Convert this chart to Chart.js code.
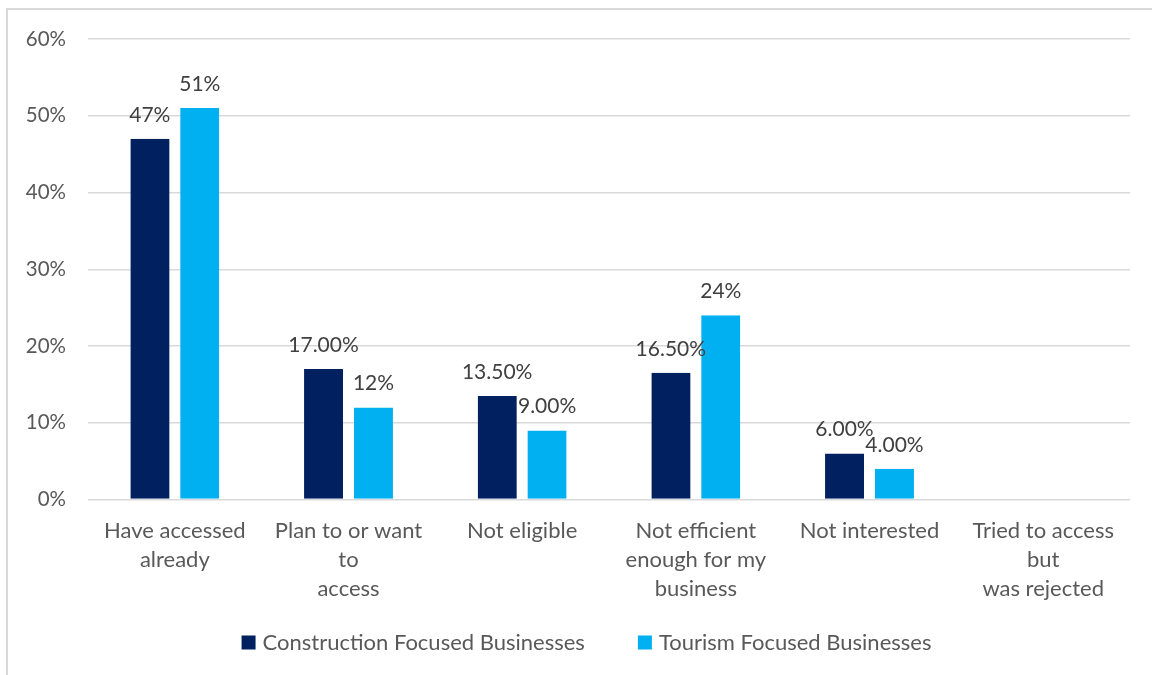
<!DOCTYPE html>
<html>
<head>
<meta charset="utf-8">
<script src="https://cdn.jsdelivr.net/npm/chart.js@4/dist/chart.umd.min.js"></script>
<style>
  html, body { margin: 0; padding: 0; background: #ffffff; }
  #wrap { position: absolute; left: 0; top: 0; width: 1152px; height: 675px; overflow: hidden; }
  #frame { position: absolute; left: 6px; top: 8px; width: 1200px; height: 700px;
           border-left: 2px solid #d9d9d9; border-top: 2px solid #d9d9d9; }
  canvas { position: absolute; left: 0; top: 0; }
</style>
</head>
<body>
<div id="wrap">
  <div id="frame"></div>
  <canvas id="chart" width="1152" height="675"></canvas>
</div>
<script>
// Survey answers, one entry per category
const categories = [
  ["Have accessed", "already"],
  ["Plan to or want", "to", "access"],
  "Not eligible",
  ["Not efficient", "enough for my", "business"],
  "Not interested",
  ["Tried to access", "but", "was rejected"]
];

const seriesNames = ["Construction Focused Businesses", "Tourism Focused Businesses"];

// Share of respondents (%)
const construction = [47, 17, 13.5, 16.5, 6, 0];
const tourism = [51, 12, 9, 24, 4, 0];

// Value labels as printed above each bar
const constructionLabels = ["47%", "17.00%", "13.50%", "16.50%", "6.00%", ""];
const tourismLabels = ["51%", "12%", "9.00%", "24%", "4.00%", ""];

const yTickValues = [0, 10, 20, 30, 40, 50, 60];

const FONT = "Lato, 'Noto Sans', sans-serif";
const TEXT = "#595959";
const GAP = 5.5; // half the white gap between paired bars

// Writes the value text above each bar
const valueLabels = {
  id: "valueLabels",
  afterDatasetsDraw(chart) {
    const ctx = chart.ctx;
    ctx.save();
    ctx.font = "21px " + FONT;
    ctx.fillStyle = "#404040";
    ctx.textAlign = "center";
    ctx.textBaseline = "middle";
    chart.data.datasets.forEach((ds, di) => {
      const meta = chart.getDatasetMeta(di);
      meta.data.forEach((bar, i) => {
        const txt = ds.valueText[i];
        if (!txt) return;
        const cx = bar.x + (di === 0 ? -GAP / 2 : GAP / 2);
        ctx.fillText(txt, cx, bar.y - 24);
      });
    });
    ctx.restore();
  }
};

// Series key centred in a single row under the category labels
const bottomLegend = {
  id: "bottomLegend",
  afterDraw(chart) {
    const ctx = chart.ctx;
    const box = 14, textGap = 7, itemGap = 53;
    ctx.save();
    ctx.font = "22px " + FONT;
    const items = chart.data.datasets.map(ds => ({
      text: ds.label,
      color: ds.backgroundColor,
      w: ctx.measureText(ds.label).width
    }));
    const total = items.reduce((s, it) => s + box + textGap + it.w, 0) + itemGap * (items.length - 1);
    const area = chart.chartArea;
    const centre = (area.left + area.right) / 2 - 22.5;
    const y = chart.scales.x.bottom + 33;
    let x = centre - total / 2;
    ctx.textAlign = "left";
    ctx.textBaseline = "middle";
    items.forEach(it => {
      ctx.fillStyle = it.color;
      ctx.fillRect(x, y - box / 2, box, box);
      x += box + textGap;
      ctx.fillStyle = TEXT;
      ctx.fillText(it.text, x, y);
      x += it.w + itemGap;
    });
    ctx.restore();
  }
};

new Chart(document.getElementById("chart"), {
  type: "bar",
  data: {
    labels: categories,
    datasets: [
      {
        label: seriesNames[0],
        data: construction,
        valueText: constructionLabels,
        backgroundColor: "#002060",
        borderColor: "rgba(0,0,0,0)",
        borderWidth: { top: 0, right: GAP, bottom: 0, left: 0 },
        borderSkipped: "start"
      },
      {
        label: seriesNames[1],
        data: tourism,
        valueText: tourismLabels,
        backgroundColor: "#00B0F0",
        borderColor: "rgba(0,0,0,0)",
        borderWidth: { top: 0, right: 0, bottom: 0, left: GAP },
        borderSkipped: "start"
      }
    ]
  },
  options: {
    responsive: false,
    animation: false,
    layout: { padding: { top: 39, right: 22, bottom: 65.5, left: 0 } },
    datasets: {
      bar: { categoryPercentage: 0.512, barPercentage: 1.0 }
    },
    scales: {
      x: {
        grid: { display: false },
        border: { display: false },
        ticks: {
          color: TEXT,
          font: { family: FONT, size: 22, lineHeight: 1.32 },
          padding: 9,
          maxRotation: 0,
          autoSkip: false
        },
        afterFit(scale) { scale.height = 110; }
      },
      y: {
        min: 0,
        max: 60,
        afterBuildTicks(scale) { scale.ticks = yTickValues.map(v => ({ value: v })); },
        grid: { color: "#d9d9d9", lineWidth: 1.5, drawTicks: false },
        border: { display: false },
        ticks: {
          color: TEXT,
          font: { family: FONT, size: 20.5 },
          padding: 22,
          callback: v => v + "%"
        },
        afterFit(scale) { scale.width = 88; }
      }
    },
    plugins: {
      tooltip: { enabled: false },
      legend: { display: false }
    }
  },
  plugins: [valueLabels, bottomLegend]
});
</script>
</body>
</html>
